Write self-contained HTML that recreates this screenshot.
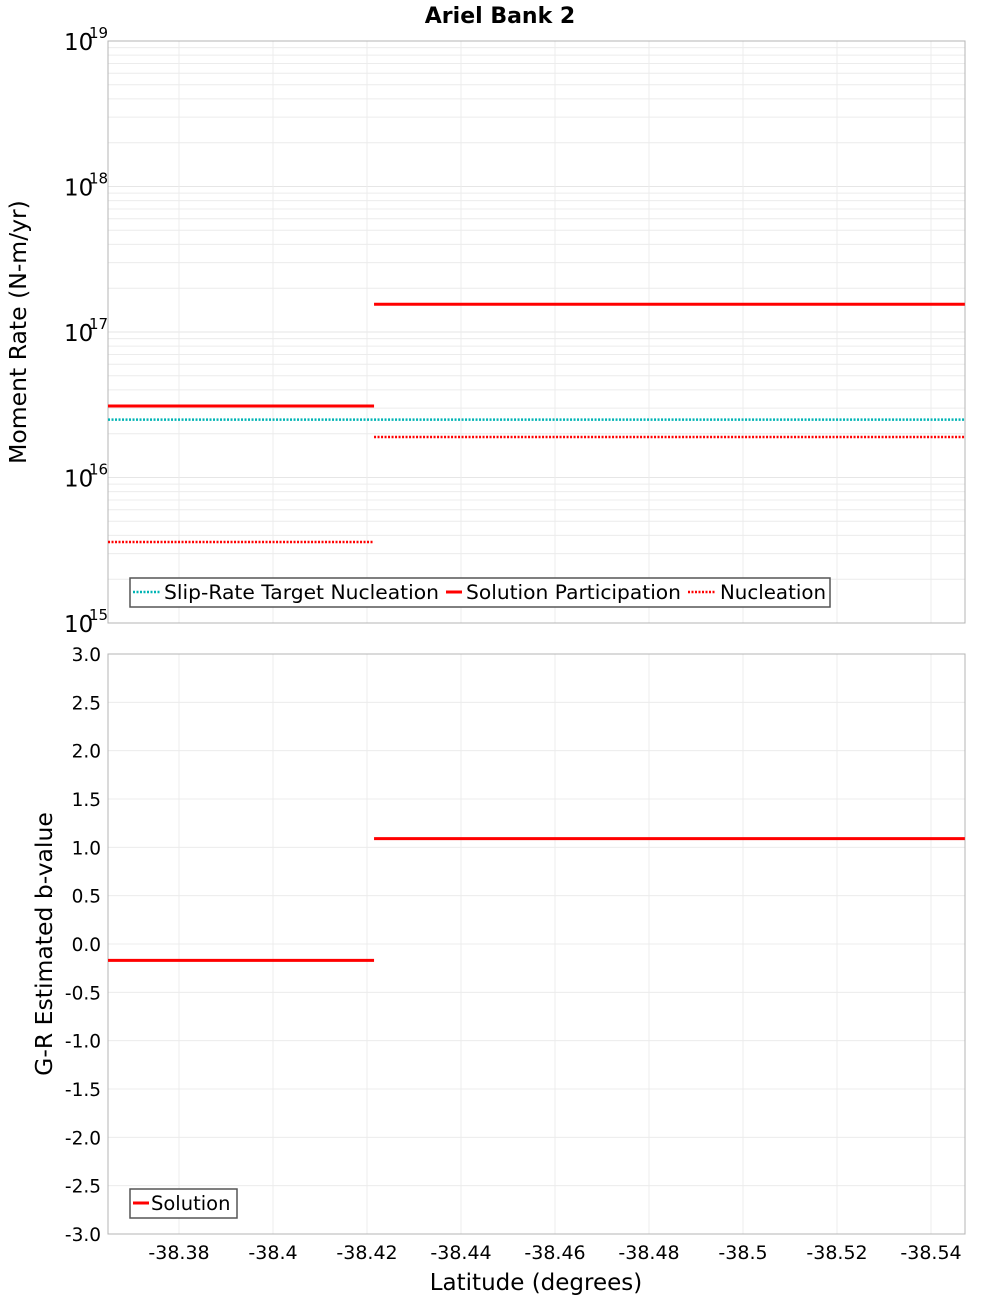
<!DOCTYPE html>
<html><head><meta charset="utf-8"><style>
body{margin:0;background:#fff;width:1000px;height:1300px;overflow:hidden}
svg text{font-family:"DejaVu Sans","Liberation Sans",sans-serif}
</style></head><body>
<svg id="c" width="1000" height="1300" xmlns="http://www.w3.org/2000/svg"></svg>
<script>
const xTicks=[-38.38,-38.4,-38.42,-38.44,-38.46,-38.48,-38.5,-38.52,-38.54];
const xTickLabels=["-38.38","-38.4","-38.42","-38.44","-38.46","-38.48","-38.5","-38.52","-38.54"];
const segStarts=[-38.3649,-38.4215];
const segEnds=[-38.4215,-38.5472];
const participation=[3.1e16,1.55e17];
const nucleation=[3.6e15,1.9e16];
const target=[2.5e16,2.5e16];
const bValues=[-0.17,1.09];
const bTicks=[3,2.5,2,1.5,1,0.5,0,-0.5,-1,-1.5,-2,-2.5,-3];
const bTickLabels=["3.0","2.5","2.0","1.5","1.0","0.5","0.0","-0.5","-1.0","-1.5","-2.0","-2.5","-3.0"];
const decades=[15,16,17,18,19];

const svg=document.getElementById('c');
const NS='http://www.w3.org/2000/svg';
function mk(t,a,parent){const e=document.createElementNS(NS,t);for(const k in a)e.setAttribute(k,a[k]);(parent||svg).appendChild(e);return e;}
const L=108,R=965,T1=41,B1=623,T2=654,B2=1234;
const xS=v=>179+(-38.38-v)/0.02*94.0;
const yLog=v=>B1-(Math.log10(v)-15)/4*(B1-T1);
const yB=v=>T2+(3-v)/6*(B2-T2);

for(let d=15;d<19;d++){for(let m=2;m<=9;m++){const y=yLog(m*Math.pow(10,d));
const g=mk('line',{x1:L,x2:R,y1:y,y2:y,stroke:'#ececec','stroke-width':1});

}}
decades.forEach(d=>{const y=yLog(Math.pow(10,d));
const g=mk('line',{x1:L,x2:R,y1:y,y2:y,stroke:'#e6e6e6','stroke-width':1});

});
bTicks.forEach(v=>{const y=yB(v);
const g=mk('line',{x1:L,x2:R,y1:y,y2:y,stroke:'#ececec','stroke-width':1});

});
xTicks.forEach(v=>{const x=xS(v);
[[T1,B1],[T2,B2]].forEach(([a,b])=>{const g=mk('line',{x1:x,x2:x,y1:a,y2:b,stroke:'#ececec','stroke-width':1});

});});

const f1=mk('rect',{x:L,y:T1,width:R-L,height:B1-T1,fill:'none',stroke:'#b4b4b4'});


const f2=mk('rect',{x:L,y:T2,width:R-L,height:B2-T2,fill:'none',stroke:'#b4b4b4'});



function seg(arr,sc,color,dash,name){for(let i=0;i<arr.length;i++){const y=sc(arr[i]);
const a={x1:xS(segStarts[i]),x2:xS(segEnds[i]),y1:y,y2:y,stroke:color,'stroke-width':dash?2.5:3};
if(dash)a['stroke-dasharray']='2,1.5';
const l=mk('line',a);

}}
seg(target,yLog,'#00b4b4',true,'target-nucleation-line');
seg(nucleation,yLog,'#ff0000',true,'nucleation-line');
seg(participation,yLog,'#ff0000',false,'participation-line');
seg(bValues,yB,'#ff0000',false,'b-value-line');

decades.forEach(d=>{const y=yLog(Math.pow(10,d));
const t=mk('text',{x:64,y:y+9,'font-size':23});t.textContent='10';


const s=mk('text',{x:89,y:y-3,'font-size':15});s.textContent=String(d);

});
bTicks.forEach((v,i)=>{const t=mk('text',{x:101,y:yB(v)+7,'font-size':18.5,'text-anchor':'end'});t.textContent=bTickLabels[i];

});
xTicks.forEach((v,i)=>{const t=mk('text',{x:xS(v),y:1259,'font-size':19,'text-anchor':'middle'});t.textContent=xTickLabels[i];

});

function txt(s,a,name){const t=mk('text',a);t.textContent=s;return t;}
txt('Ariel Bank 2',{x:500,y:23,'font-size':22,'font-weight':'bold','text-anchor':'middle'},'chart-title');
txt('Latitude (degrees)',{x:536,y:1290,'font-size':23,'text-anchor':'middle'},'x-axis-title');
txt('Moment Rate (N-m/yr)',{x:0,y:0,'font-size':23.5,'text-anchor':'middle',transform:'translate(26,332) rotate(-90)'},'top-y-axis-title');
txt('G-R Estimated b-value',{x:0,y:0,'font-size':23.5,'text-anchor':'middle',transform:'translate(52,944) rotate(-90)'},'bottom-y-axis-title');

const lg=mk('rect',{x:130,y:578,width:700,height:29,fill:'#fff',stroke:'#555','stroke-width':1.5});


function le(x,w,color,dash,label,tw){const a={x1:x,x2:x+w,y1:592,y2:592,stroke:color,'stroke-width':dash?2.5:3};if(dash)a['stroke-dasharray']='2,1.5';
const l=mk('line',a);
txt(label,{x:x+w+4,y:599,'font-size':19.5,textLength:tw,lengthAdjust:'spacingAndGlyphs'},'legend-entry');}
le(133,27,'#00b4b4',true,'Slip-Rate Target Nucleation',275);
le(446,16,'#ff0000',false,'Solution Participation',215);
le(688,28,'#ff0000',true,'Nucleation',106);
const lg2=mk('rect',{x:130,y:1189,width:107,height:29,fill:'#fff',stroke:'#555','stroke-width':1.5});


const l2=mk('line',{x1:133,x2:149,y1:1203,y2:1203,stroke:'#ff0000','stroke-width':3});


txt('Solution',{x:151,y:1210,'font-size':19.5},'legend-entry');
</script>
</body></html>
